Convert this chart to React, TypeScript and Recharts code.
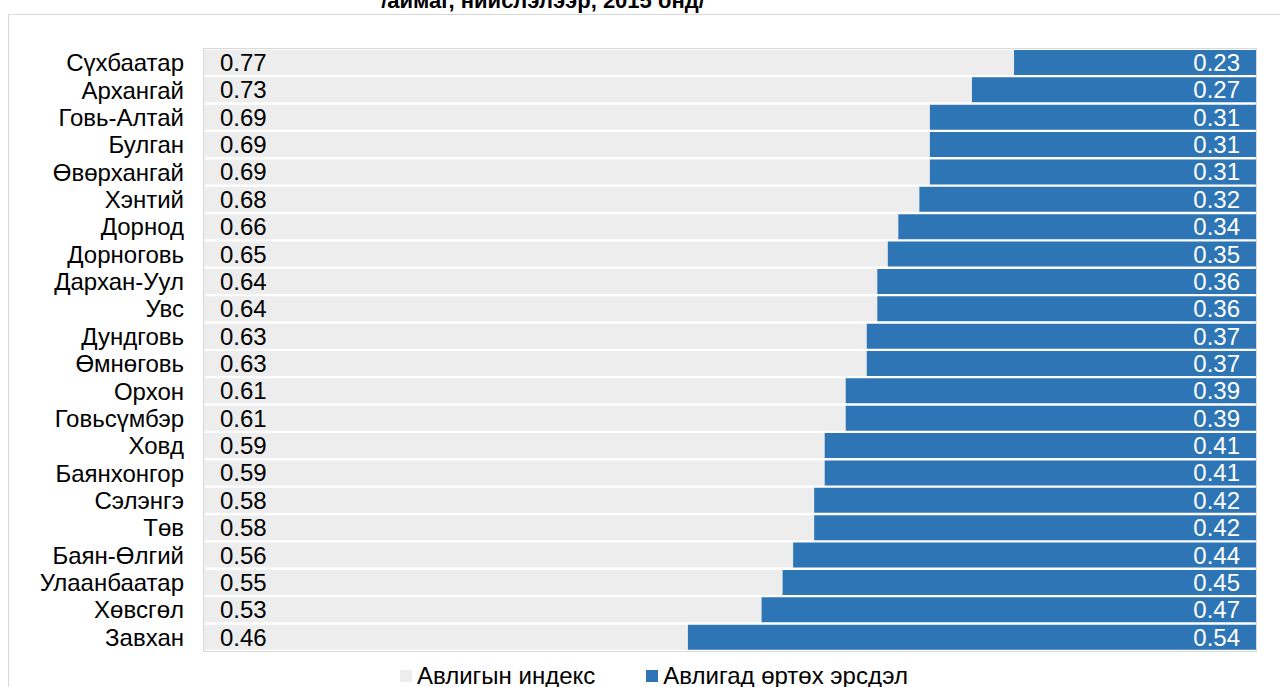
import React from 'react'
import { BarChart, Bar, XAxis, YAxis, CartesianGrid, LabelList } from 'recharts'

const aimags = [
  'Сүхбаатар', 'Архангай', 'Говь-Алтай', 'Булган', 'Өвөрхангай', 'Хэнтий',
  'Дорнод', 'Дорноговь', 'Дархан-Уул', 'Увс', 'Дундговь', 'Өмнөговь',
  'Орхон', 'Говьсүмбэр', 'Ховд', 'Баянхонгор', 'Сэлэнгэ', 'Төв',
  'Баян-Өлгий', 'Улаанбаатар', 'Хөвсгөл', 'Завхан',
]
const indexValues = [
  0.77, 0.73, 0.69, 0.69, 0.69, 0.68, 0.66, 0.65, 0.64, 0.64, 0.63,
  0.63, 0.61, 0.61, 0.59, 0.59, 0.58, 0.58, 0.56, 0.55, 0.53, 0.46,
]
const riskValues = [
  0.23, 0.27, 0.31, 0.31, 0.31, 0.32, 0.34, 0.35, 0.36, 0.36, 0.37,
  0.37, 0.39, 0.39, 0.41, 0.41, 0.42, 0.42, 0.44, 0.45, 0.47, 0.54,
]
const xTicks = [0, 0.1, 0.2, 0.3, 0.4, 0.5, 0.6, 0.7, 0.8, 0.9, 1]

const data = aimags.map((name, i) => ({ name, index: indexValues[i], risk: riskValues[i] }))

const font = '"Liberation Sans", Arial, sans-serif'
const GRAY = '#ededed'
const BLUE = '#2e75b6'
const fmt = (v: any) => Number(v).toFixed(2)

export default function App() {
  return (
    <div
      style={{
        position: 'absolute',
        left: 0,
        top: 0,
        width: 1280,
        height: 687,
        overflow: 'hidden',
        background: '#fff',
        fontFamily: font,
      }}
    >
      {/* chart frame */}
      <div
        style={{
          position: 'absolute',
          left: 8,
          top: 14,
          width: 1400,
          height: 800,
          border: '1px solid #d9d9d9',
        }}
      />
      <div
        style={{
          position: 'absolute',
          left: 0,
          width: 1086,
          top: -10,
          textAlign: 'center',
          fontSize: 22,
          lineHeight: '22px',
          fontWeight: 700,
          color: '#000',
        }}
      >
        /аймаг, нийслэлээр, 2015 онд/
      </div>
      <div style={{ position: 'absolute', left: 0, top: 0 }}>
        <BarChart
          width={1280}
          height={687}
          data={data}
          layout="vertical"
          margin={{ top: 49, right: 24, left: 8, bottom: 36 }}
          barCategoryGap={1}
        >
          <CartesianGrid horizontal={false} vertical stroke="#d9d9d9" />
          <XAxis
            type="number"
            domain={[0, 1]}
            ticks={xTicks}
            tick={false}
            axisLine={false}
            tickLine={false}
            height={0}
          />
          <YAxis
            type="category"
            dataKey="name"
            width={196}
            axisLine={false}
            tickLine={false}
            tickSize={0}
            tickMargin={20}
            interval={0}
            tick={{ fontSize: 24, fontFamily: font, fill: '#000' }}
          />
          <Bar dataKey="index" stackId="a" fill={GRAY} isAnimationActive={false}>
            <LabelList
              dataKey="index"
              position="insideLeft"
              offset={16}
              formatter={fmt}
              style={{ fontSize: 24, fontFamily: font, fill: '#000' }}
            />
          </Bar>
          <Bar dataKey="risk" stackId="a" fill={BLUE} isAnimationActive={false}>
            <LabelList
              dataKey="risk"
              position="insideRight"
              offset={16}
              formatter={fmt}
              style={{ fontSize: 24, fontFamily: font, fill: '#fff' }}
            />
          </Bar>
        </BarChart>
      </div>
      {/* plot area border */}
      <div
        style={{
          position: 'absolute',
          left: 203,
          top: 48,
          width: 1052,
          height: 602,
          border: '1px solid #d9d9d9',
          pointerEvents: 'none',
        }}
      />
      {/* legend */}
      <div style={{ position: 'absolute', left: 400, top: 662, display: 'flex', alignItems: 'center', fontSize: 24, lineHeight: '28px', color: '#000' }}>
        <span style={{ width: 12, height: 12, background: GRAY, marginRight: 5 }} />
        <span>Авлигын индекс</span>
        <span style={{ width: 12, height: 12, background: BLUE, marginLeft: 51, marginRight: 5 }} />
        <span>Авлигад өртөх эрсдэл</span>
      </div>
    </div>
  )
}
